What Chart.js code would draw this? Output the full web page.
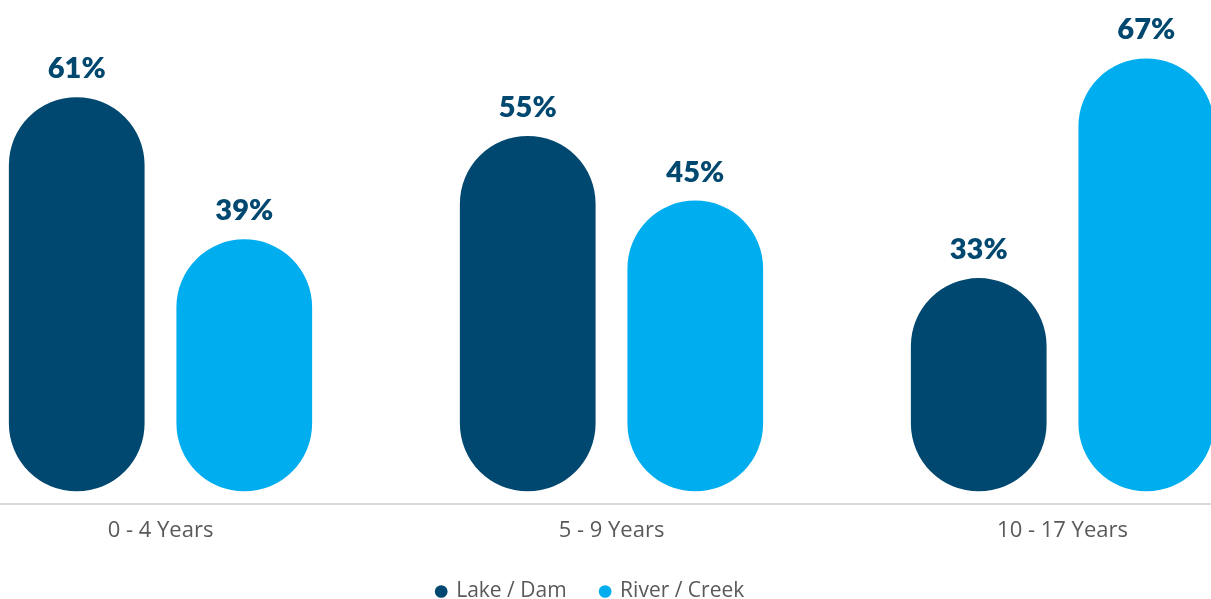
<!DOCTYPE html>
<html>
<head>
<meta charset="utf-8">
<script src="https://cdn.jsdelivr.net/npm/chart.js@4.4.1/dist/chart.umd.min.js"></script>
<style>
  html, body { margin: 0; padding: 0; background: #fff; overflow: hidden; width: 1211px; height: 599px; }
  #wrap { position: absolute; left: -65px; top: 0; width: 1353px; height: 599px; }
</style>
</head>
<body>
<div id="wrap"><canvas id="c"></canvas></div>
<script>
const categories = ['0 - 4 Years', '5 - 9 Years', '10 - 17 Years'];
const seriesNames = ['Lake / Dam', 'River / Creek'];
const lakeDam = [61, 55, 33];
const riverCreek = [39, 45, 67];

const NAVY = '#00486f';
const SKY = '#00aeef';
const GREY_TEXT = '#595959';

// Percent labels drawn above each pill-shaped bar
const valueLabels = {
  id: 'valueLabels',
  afterDatasetsDraw(chart) {
    const ctx = chart.ctx;
    ctx.save();
    ctx.font = '800 29px Lato';
    ctx.fillStyle = NAVY;
    ctx.textAlign = 'center';
    ctx.textBaseline = 'alphabetic';
    chart.data.datasets.forEach((ds, i) => {
      chart.getDatasetMeta(i).data.forEach((bar, j) => {
        ctx.fillText(ds.data[j] + '%', bar.x, bar.y - 19);
      });
    });
    ctx.restore();
  }
};

// Nudge the legend a little left of the plot centre
const legendShift = {
  id: 'legendShift',
  afterLayout(chart) {
    chart.legend.left -= 21;
    chart.legend.right -= 21;
  }
};

function barSet(label, data, color) {
  return {
    label, data,
    backgroundColor: color,
    borderWidth: 0,
    borderRadius: 68,
    borderSkipped: false,
    categoryPercentage: 0.743,
    barPercentage: 0.81
  };
}

function draw() {
  new Chart(document.getElementById('c'), {
    type: 'bar',
    data: {
      labels: categories,
      datasets: [
        barSet(seriesNames[0], lakeDam, NAVY),
        barSet(seriesNames[1], riverCreek, SKY)
      ]
    },
    options: {
      responsive: true,
      maintainAspectRatio: false,
      animation: false,
      layout: { padding: { top: 39, left: 0, right: 0, bottom: -13 } },
      plugins: {
        legend: {
          position: 'bottom',
          labels: {
            usePointStyle: true,
            pointStyle: 'circle',
            boxWidth: 9,
            boxHeight: 9,
            padding: 34,
            color: GREY_TEXT,
            font: { family: 'Open Sans', size: 21 }
          }
        },
        tooltip: { enabled: false }
      },
      scales: {
        x: {
          grid: { display: false, drawTicks: false },
          border: { display: true, color: '#d9d9d9', width: 2 },
          ticks: { color: GREY_TEXT, font: { family: 'Open Sans', size: 22 }, padding: 14 },
          afterFit(scale) { scale.height -= 11; }
        },
        y: { display: false, min: -1.9, max: 70 }
      }
    },
    plugins: [valueLabels, legendShift]
  });
}

Promise.all([
  document.fonts.load('800 29px Lato'),
  document.fonts.load('20px "Open Sans"')
]).then(draw, draw);
</script>
</body>
</html>
